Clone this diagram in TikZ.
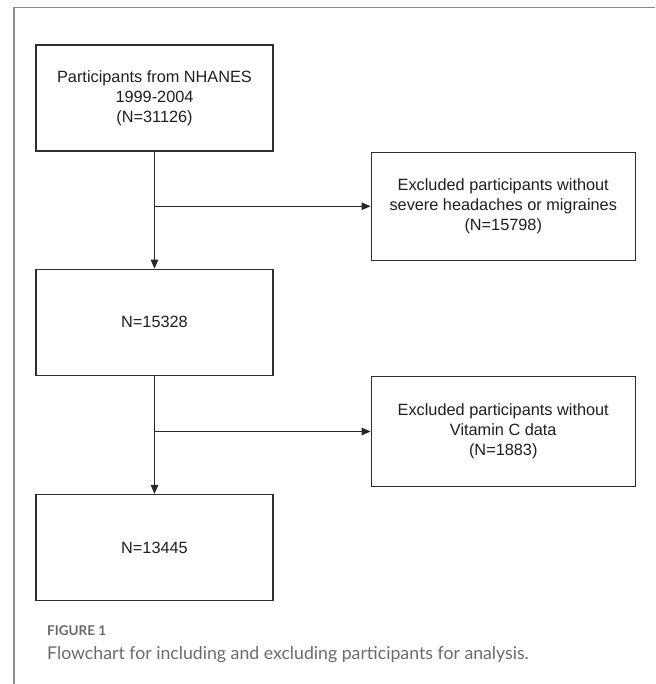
\documentclass[tikz,border=0pt]{standalone}
\usepackage{fontspec}
\setmainfont{Liberation Sans}
\newfontfamily\capfont{Lato}
\usetikzlibrary{positioning, arrows.meta}
\definecolor{framegray}{HTML}{8A8A8A}
\definecolor{capgray}{HTML}{6B6B6B}
\definecolor{boxline}{HTML}{2E2E2E}

\begin{document}
\begin{tikzpicture}
			[x=1pt, y=1pt,
			stage/.style={rectangle, draw=boxline, line width=1.25pt, minimum width=237pt, minimum height=106pt, align=center, inner sep=0pt, font=\fontsize{16.3}{20}\selectfont, text=black!88},
			dropout/.style={stage, minimum width=264pt, minimum height=108pt},
			flow/.style={draw=black!85, line width=1.25pt, -{Triangle[length=9pt, width=7.5pt]}}]
			\useasboundingbox (0,0) rectangle (655,-684);
			% frame of the figure panel
			\draw[framegray, line width=1.6pt] (655,-7.5) -- (14,-7.5) -- (14,-684);
			% main stream
			\node[stage] (s1) at (154.5,-98) {Participants from NHANES\\1999-2004\\(N=31126)};
			\node[stage] (s2) [below = 117pt of s1] {N=15328};
			\node[stage] (s3) [below = 118pt of s2] {N=13445};
			% exclusions
			\node[dropout, anchor=north west] (x1) at ([xshift=97pt]s1.south east) {Excluded participants without\\severe headaches or migraines\\(N=15798)};
			\node[dropout, anchor=north west, minimum height=110pt] (x2) at ([xshift=97pt]s2.south east) {Excluded participants without\\Vitamin C data\\(N=1883)};
			\draw[flow] (s1) -- (s2);
			\draw[flow] (s2) -- (s3);
			\draw[flow] (s1.south |- x1.west) -- (x1.west);
			\draw[flow] (s2.south |- x2.west) -- (x2.west);
			% caption
			\node[anchor=base west, inner sep=0pt, text=capgray, font=\capfont\bfseries\fontsize{13.5}{16}\selectfont] (fig) at (47,-635) {FIGURE 1};
			\node[anchor=base west, inner sep=0pt, text=capgray, font=\capfont\fontsize{17.7}{21}\selectfont] (cap) at (47,-659) {Flowchart for including and excluding participants for analysis.};
		\end{tikzpicture}
\end{document}
